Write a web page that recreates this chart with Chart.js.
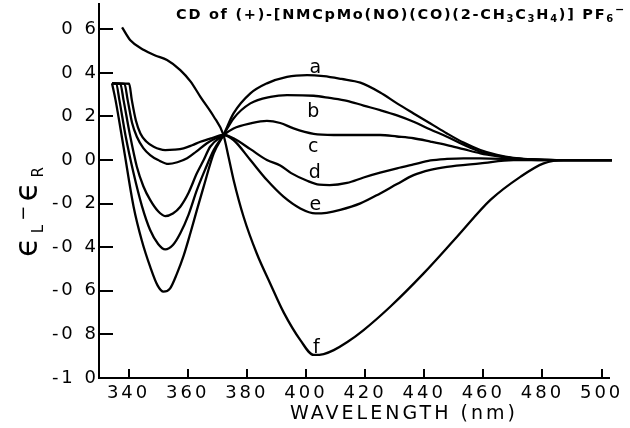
<!DOCTYPE html>
<html><head><meta charset="utf-8">
<script src="https://cdn.jsdelivr.net/npm/chart.js@4"></script>
<style>html,body{margin:0;padding:0;background:#fff;}canvas{display:block;}</style>
</head><body>
<canvas id="c" width="630" height="428"></canvas>
<script>
// ---- data ----
const xTicks = [340, 360, 380, 400, 420, 440, 460, 480, 500];
const yTicks = [0.6, 0.4, 0.2, 0.0, -0.2, -0.4, -0.6, -0.8, -1.0];
const yTickLabels = ['0 6', '0 4', '0 2', '0 0', '-0 2', '-0 4', '-0 6', '-0 8', '-1 0'];
const seriesNames = ['a', 'b', 'c', 'd', 'e', 'f'];

const nmA = [334.4, 335.6, 338.3, 341.7, 344.5, 347.3, 349.8, 351.8, 354, 356.4, 358.6, 360.9, 363.1, 365.4, 368.8, 372.1, 375.5, 381.2, 386.8, 393.6, 400.4, 406, 412, 418.4, 425.1, 430.8, 436.4, 442.1, 447.7, 453.3, 459, 464.6, 470.2, 475.9, 481.5, 487.2, 503.5];
const epsA = [0.352, 0.275, 0.06, -0.214, -0.37, -0.489, -0.575, -0.604, -0.59, -0.52, -0.44, -0.336, -0.23, -0.122, 0.031, 0.115, 0.214, 0.306, 0.352, 0.382, 0.39, 0.385, 0.372, 0.355, 0.31, 0.26, 0.214, 0.168, 0.122, 0.08, 0.046, 0.024, 0.01, 0.004, 0.001, 0, 0];

const nmB = [334.4, 335.8, 336.9, 339, 341.7, 344.5, 347.3, 350, 352.4, 355, 357.5, 360.3, 363.1, 366, 368.8, 372.1, 375.5, 381.2, 388, 393.6, 402.6, 408, 413.9, 419.5, 425.1, 430.8, 436.4, 442.1, 447.7, 453.3, 459, 464.6, 470.2, 475.9, 481.5, 487.2, 503.5];
const epsB = [0.352, 0.35, 0.275, 0.11, -0.061, -0.21, -0.321, -0.385, -0.41, -0.39, -0.336, -0.25, -0.138, -0.04, 0.046, 0.115, 0.191, 0.26, 0.29, 0.298, 0.295, 0.285, 0.272, 0.25, 0.229, 0.205, 0.176, 0.14, 0.107, 0.07, 0.038, 0.02, 0.008, 0.003, 0.001, 0, 0];

const nmC = [334.4, 337.2, 338.3, 340.4, 342.8, 345, 347.3, 350, 352.4, 355, 357.5, 360.3, 363.1, 365.4, 367.6, 372.1, 375.5, 381.2, 386.8, 391.3, 395.8, 402.6, 409.4, 417, 425.1, 430.8, 436.4, 442.1, 447.7, 453.3, 459, 464.6, 470.2, 475.9, 481.5, 487.2, 503.5];
const epsC = [0.352, 0.35, 0.275, 0.12, -0.031, -0.12, -0.183, -0.235, -0.257, -0.245, -0.214, -0.15, -0.061, 0.0, 0.061, 0.115, 0.145, 0.168, 0.18, 0.17, 0.145, 0.12, 0.115, 0.115, 0.115, 0.108, 0.1, 0.085, 0.069, 0.05, 0.031, 0.018, 0.008, 0.003, 0.001, 0, 0];

const nmD = [334.4, 338.6, 339.7, 341.2, 342.8, 345, 347.3, 350, 353.5, 356.5, 359.8, 363, 366.5, 369.5, 372.1, 375.5, 381.2, 386.8, 391.3, 395, 400.4, 404.5, 408, 413.9, 419.5, 425.1, 430.8, 436.4, 442.1, 447.7, 453.3, 459, 470.2, 481.5, 487.2, 503.5];
const epsD = [0.352, 0.35, 0.275, 0.17, 0.107, 0.055, 0.023, 0.0, -0.018, -0.01, 0.008, 0.04, 0.077, 0.1, 0.115, 0.1, 0.05, 0.0, -0.025, -0.06, -0.095, -0.113, -0.115, -0.105, -0.08, -0.058, -0.038, -0.02, -0.002, 0.005, 0.008, 0.008, 0.004, 0, 0, 0];

const nmE = [334.4, 340.2, 341.1, 342.5, 344, 346, 348.5, 352.4, 355.5, 358.6, 361.5, 364.3, 368, 372.1, 375.5, 381.2, 386.8, 392.4, 398.1, 403.2, 407, 411.6, 418.4, 425.1, 430.8, 436.4, 442.1, 447.7, 459, 470.2, 481.5, 487.2, 503.5];
const epsE = [0.352, 0.35, 0.275, 0.18, 0.122, 0.085, 0.061, 0.046, 0.048, 0.054, 0.068, 0.084, 0.1, 0.115, 0.092, 0.0, -0.092, -0.168, -0.222, -0.245, -0.242, -0.229, -0.199, -0.153, -0.11, -0.069, -0.045, -0.031, -0.015, 0, 0, 0, 0];

const nmF = [337.8, 340.6, 345.2, 349, 353, 357.5, 361, 364.3, 368.8, 372.1, 373.8, 375.5, 378.9, 383.4, 387.9, 392.5, 398.1, 402.6, 406, 409.4, 414, 419.5, 428.5, 439.8, 451.1, 462.4, 472.5, 480.4, 487.2, 503.5];
const epsF = [0.609, 0.55, 0.505, 0.48, 0.459, 0.413, 0.36, 0.29, 0.2, 0.115, 0.015, -0.09, -0.26, -0.43, -0.566, -0.7, -0.826, -0.894, -0.89, -0.872, -0.835, -0.78, -0.673, -0.52, -0.352, -0.183, -0.077, -0.015, 0, 0];

// curve-letter anchor points (data space)
const labelNm = [403.2, 402.5, 402.5, 403.0, 403.2, 403.5];
const labelEps = [0.399, 0.197, 0.038, -0.084, -0.229, -0.885];

const xTitle = 'WAVELENGTH (nm)';

// ---- chart ----
const allNm = [nmA, nmB, nmC, nmD, nmE, nmF];
const allEps = [epsA, epsB, epsC, epsD, epsE, epsF];
const FONT = '"DejaVu Sans", sans-serif';

const datasets = seriesNames.map((name, k) => ({
  label: name,
  data: allNm[k].map((x, i) => ({x: x, y: allEps[k][i]})),
  borderColor: '#000',
  borderWidth: 2.3,
  pointRadius: 0,
  fill: false,
  cubicInterpolationMode: 'monotone',
  clip: false
}));

function drawSegs(ctx, segs, x, y, target) {
  ctx.letterSpacing = '0px';
  const widths = segs.map(s => { ctx.font = (s[3] || 'normal') + ' ' + s[1] + 'px ' + FONT; return ctx.measureText(s[0]).width; });
  const total = widths.reduce((a, b) => a + b, 0);
  const n = segs.reduce((a, s) => a + [...s[0]].length, 0);
  const sp = target ? (target - total) / n : 0;
  let cx = x;
  segs.forEach((s, i) => {
    ctx.font = (s[3] || 'normal') + ' ' + s[1] + 'px ' + FONT;
    ctx.letterSpacing = sp + 'px';
    ctx.fillText(s[0], cx, y + s[2]);
    cx += widths[i] + sp * [...s[0]].length;
  });
  ctx.letterSpacing = '0px';
}

const decor = {
  id: 'decor',
  beforeDraw(chart) {
    chart.ctx.letterSpacing = '3px';
  },
  afterDraw(chart) {
    const ctx = chart.ctx;
    const xs = chart.scales.x, ys = chart.scales.y, ca = chart.chartArea;
    ctx.save();
    ctx.letterSpacing = '0px';
    ctx.strokeStyle = '#000';
    ctx.lineWidth = 2;
    ctx.beginPath();
    yTicks.forEach(v => { const p = Math.round(ys.getPixelForValue(v)); ctx.moveTo(ca.left, p); ctx.lineTo(ca.left + 14, p); });
    xTicks.forEach(v => { const p = Math.round(xs.getPixelForValue(v)); ctx.moveTo(p, ca.bottom); ctx.lineTo(p, ca.bottom - 9); });
    ctx.stroke();

    ctx.fillStyle = '#000';
    ctx.textAlign = 'left';
    ctx.textBaseline = 'alphabetic';
    // curve letters
    seriesNames.forEach((nm, k) => {
      ctx.font = '19px ' + FONT;
      const w = ctx.measureText(nm).width;
      ctx.fillText(nm, xs.getPixelForValue(labelNm[k]) - w / 2, ys.getPixelForValue(labelEps[k]));
    });
    // chart title
    drawSegs(ctx, [
      ['CD of (+)-[NMCpMo(NO)(CO)(2-CH', 14.5, 0, 'bold'], ['3', 10, 3, 'bold'], ['C', 14.5, 0, 'bold'], ['3', 10, 3, 'bold'],
      ['H', 14.5, 0, 'bold'], ['4', 10, 3, 'bold'], [')] PF', 14.5, 0, 'bold'], ['6', 10, 3, 'bold'], ['\u2212', 11, -6, 'bold']
    ], 176, 19, 450);
    // x title
    drawSegs(ctx, [[xTitle, 19, 0]], 290, 419, 228);
    // y title (rotated)
    ctx.translate(37, 257);
    ctx.rotate(-Math.PI / 2);
    drawSegs(ctx, [['\u03F5', 32, 0], ['L', 15, 6], ['\u2212', 18, -8], ['\u03F5', 32, 0], ['R', 15, 6]], 0, 0, 94);
    ctx.restore();
  }
};

new Chart(document.getElementById('c'), {
  type: 'line',
  data: {datasets: datasets},
  plugins: [decor],
  options: {
    responsive: false,
    animation: false,
    devicePixelRatio: 1,
    layout: {padding: {left: 0, right: 21, top: 4, bottom: 0}},
    plugins: {legend: {display: false}, tooltip: {enabled: false}, title: {display: false}},
    scales: {
      x: {
        type: 'linear', min: 330, max: 502.5,
        grid: {display: false, drawTicks: false},
        border: {display: true, color: '#000', width: 2},
        ticks: {color: '#000', font: {family: FONT, size: 18}, padding: 5, maxRotation: 0, autoSkip: false},
        afterBuildTicks: s => { s.ticks = xTicks.map(v => ({value: v})); },
        afterFit: s => { s.height = 50; s.paddingLeft = 0; s.paddingRight = 0; }
      },
      y: {
        type: 'linear', min: -1.0, max: 0.716,
        grid: {display: false, drawTicks: false},
        border: {display: true, color: '#000', width: 2},
        ticks: {color: '#000', font: {family: FONT, size: 18}, padding: 0, autoSkip: false,
          callback: v => { const i = yTicks.findIndex(t => Math.abs(t - v) < 1e-6); return i >= 0 ? yTickLabels[i] : ''; }},
        afterBuildTicks: s => { s.ticks = yTicks.map(v => ({value: v})); },
        afterFit: s => { s.width = 99; s.paddingTop = 0; s.paddingBottom = 0; }
      }
    }
  }
});
</script>
</body></html>
